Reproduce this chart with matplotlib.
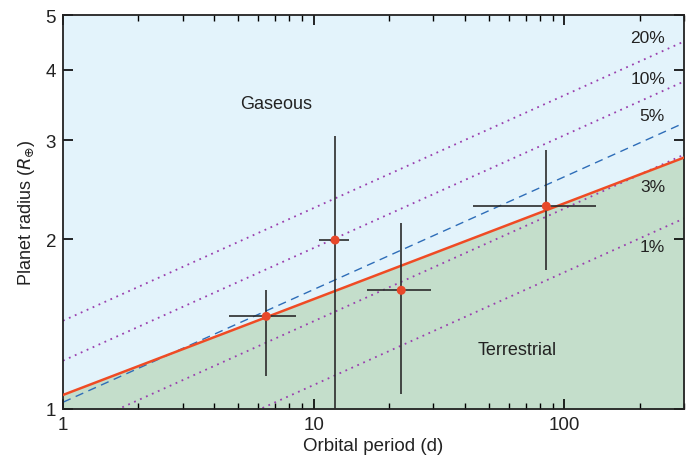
import matplotlib
matplotlib.use("Agg")
import matplotlib.pyplot as plt
import numpy as np
from matplotlib.ticker import FixedLocator, NullFormatter, NullLocator

plt.rcParams["font.family"] = ["Liberation Sans", "DejaVu Sans"]

# planets: period (d), radius (R_earth), error bar limits
period = [6.47, 12.17, 22.35, 84.7]
period_lo = [4.61, 10.5, 16.3, 43.1]
period_hi = [8.53, 13.8, 29.4, 134.3]
radius = [1.46, 1.994, 1.624, 2.29]
radius_lo = [1.143, 0.9, 1.062, 1.766]
radius_hi = [1.628, 3.05, 2.14, 2.884]

# composition lines r = r0 * P**slope
frac_labels = ["20%", "10%", "5%", "3%", "1%"]
frac_r0 = [1.434, 1.218, 1.028, 0.903, 0.696]
frac_label_y = [4.57, 3.85, 3.31, 2.48, 1.94]
frac_slope = 0.2
boundary_r0 = 1.059
boundary_slope = 0.17

xmin, xmax = 1, 300
ymin, ymax = 1, 5

fig = plt.figure(figsize=(6.9, 4.56), dpi=100)
ax = fig.add_axes([0.0913, 0.1009, 0.9000, 0.8640])
ax.set_xscale("log")
ax.set_yscale("log")
ax.set_xlim(xmin, xmax)
ax.set_ylim(ymin, ymax)

P = np.logspace(0, np.log10(xmax), 200)
rb = boundary_r0 * P ** boundary_slope
ax.fill_between(P, rb, ymax, color="#e3f3fb", lw=0, zorder=0)
ax.fill_between(P, ymin * 0.5, rb, color="#c4decb", lw=0, zorder=0)

for lab, r0 in zip(frac_labels, frac_r0):
    r = r0 * P ** frac_slope
    if lab == "5%":
        ax.plot(P, r, color="#2e6db8", lw=1.0, ls=(0, (6, 4)), zorder=2)
    else:
        ax.plot(P, r, color="#9a3fae", lw=1.3, ls=(0, (1, 2.6)), zorder=2)

ax.plot(P, rb, color="#ef4b24", lw=1.8, zorder=3)

per = np.array(period)
rad = np.array(radius)
xerr = [per - np.array(period_lo), np.array(period_hi) - per]
yerr = [rad - np.array(radius_lo), np.array(radius_hi) - rad]
ax.errorbar(per, rad, xerr=xerr, yerr=yerr, fmt="none", ecolor="#2b2b2b",
            elinewidth=1.2, capsize=0, zorder=4)
ax.scatter(per, rad, s=42, color="#e8482a", edgecolor="none", zorder=5)

# labels
for lab, y in zip(frac_labels, frac_label_y):
    ax.text(252, y, lab, fontsize=12.5, color="#222222", ha="right", va="center")
ax.text(7.05, 3.49, "Gaseous", fontsize=13, color="#222222", ha="center", va="center")
ax.text(64.9, 1.273, "Terrestrial", fontsize=13, color="#222222", ha="center", va="center")

ax.set_xlabel("Orbital period (d)", fontsize=13.5, color="#222222", labelpad=3)
ax.set_ylabel(r"Planet radius ($R_{\oplus}$)", fontsize=13, color="#222222", labelpad=6)

ax.xaxis.set_major_locator(FixedLocator([1, 10, 100]))
ax.set_xticklabels(["1", "10", "100"])
ax.yaxis.set_major_locator(FixedLocator([1, 2, 3, 4, 5]))
ax.set_yticklabels(["1", "2", "3", "4", "5"])
ax.yaxis.set_minor_locator(NullLocator())
ax.tick_params(axis="both", which="major", direction="in", length=7, width=1.2,
               labelsize=13.5, labelcolor="#222222", top=True, right=True, pad=5)
ax.tick_params(axis="x", which="minor", direction="in", length=4, width=1.0,
               top=True)
ax.xaxis.set_minor_formatter(NullFormatter())
for s in ax.spines.values():
    s.set_linewidth(1.3)
    s.set_color("#222222")

fig.savefig("out.png", dpi=100)
